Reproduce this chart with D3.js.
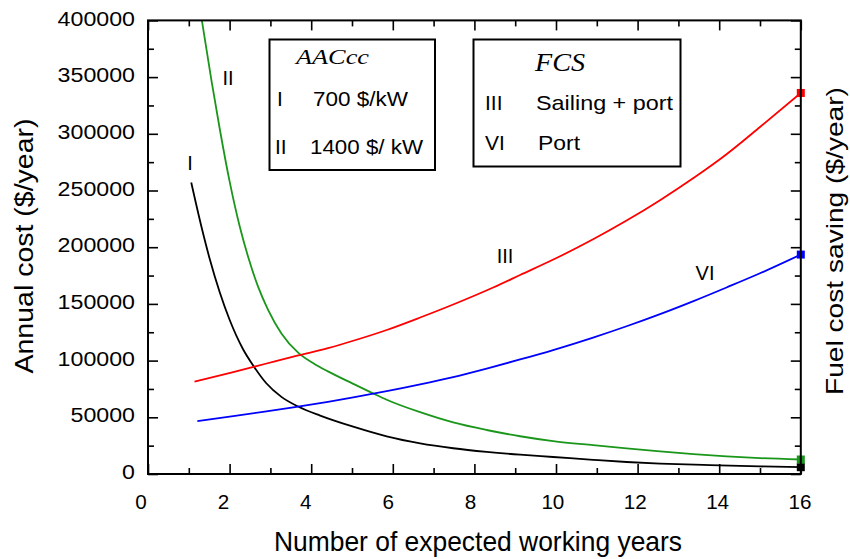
<!DOCTYPE html>
<html>
<head>
<meta charset="utf-8">
<script src="https://cdn.jsdelivr.net/npm/d3@7/dist/d3.min.js"></script>
<style>
  html, body { margin: 0; padding: 0; background: #fff; }
  svg { display: block; }
  text { font-family: "Liberation Sans", Arial, sans-serif; fill: #000; }
  .serif { font-family: "Liberation Serif", "Times New Roman", serif; font-style: italic; }
</style>
</head>
<body>
<svg id="chart" width="850" height="559"></svg>
<script>
// Annual capital cost (AACcc) and fuel cost saving (FCS) vs expected working years

// Curve I: AACcc at 700 $/kW
const yearsI = [1.06, 1.31, 1.51, 1.76, 2.0, 2.33, 2.61, 2.9, 3.27, 3.68, 4.22, 5.03, 5.85, 6.67, 7.48, 8.3, 9.12, 9.93, 10.91, 11.73, 12.55, 13.77, 15.0, 16];
const costI  = [257000, 218000, 190000, 160000, 136000, 110000, 94000, 80000, 68000, 59500, 51500, 41700, 33200, 27000, 22700, 19500, 17000, 15000, 12500, 10600, 9200, 7800, 6700, 6000];

// Curve II: AACcc at 1400 $/kW
const yearsII = [1.32, 1.56, 1.76, 2.0, 2.25, 2.45, 2.7, 2.94, 3.27, 3.68, 4.08, 4.41, 5.03, 5.52, 5.85, 6.67, 7.48, 8.3, 9.12, 9.93, 10.91, 11.73, 12.55, 13.37, 14.18, 15.0, 16];
const costII  = [400000, 346000, 304000, 258000, 218000, 192000, 165000, 145000, 124000, 107000, 97000, 90500, 79500, 71000, 65500, 54500, 45500, 38800, 33300, 29000, 25400, 22600, 20000, 17600, 15600, 14000, 12800];

// Curve III: FCS, sailing + port
const yearsIII = [1.14, 2.04, 2.86, 3.68, 4.41, 5.03, 5.85, 6.67, 7.48, 8.46, 9.12, 10.1, 10.91, 11.73, 12.55, 13.37, 14.18, 15.0, 16];
const savingIII = [81400, 89500, 97000, 104500, 111000, 117500, 127000, 138000, 149500, 164500, 175500, 192000, 207000, 223500, 241500, 261000, 282000, 306000, 336000];

// Curve VI: FCS, port only
const yearsVI = [1.21, 2.09, 2.86, 3.6, 4.41, 5.03, 5.85, 6.67, 7.48, 8.3, 9.12, 9.93, 10.91, 11.73, 12.55, 13.37, 14.18, 15.0, 16];
const savingVI = [46700, 51000, 55000, 59000, 63600, 67500, 73000, 79000, 85500, 93000, 101000, 109300, 120300, 130300, 141000, 152500, 164500, 177000, 193500];

const xTicks = [0, 2, 4, 6, 8, 10, 12, 14, 16];
const yTicks = [0, 50000, 100000, 150000, 200000, 250000, 300000, 350000, 400000];

const seriesList = [
  { name: "I",   xs: yearsI,   ys: costI,     color: "#000000" },
  { name: "II",  xs: yearsII,  ys: costII,    color: "#1a961a" },
  { name: "III", xs: yearsIII, ys: savingIII, color: "#ff0000" },
  { name: "VI",  xs: yearsVI,  ys: savingVI,  color: "#0000ff" }
];

const L = 148, R = 800.8, T = 20.4, B = 474;
const svg = d3.select("#chart");

const x = d3.scaleLinear().domain([0, 16]).range([L, R]);
const y = d3.scaleLinear().domain([0, 400000]).range([B, T]);
// tick labels sit on a slightly wider spacing than the ticks
const xLab = d3.scaleLinear().domain([0, 16]).range([141, 800]);

svg.append("defs").append("clipPath").attr("id", "plotClip")
  .append("rect").attr("x", L).attr("y", T).attr("width", R - L).attr("height", B - T);

// curves
const line = d3.line().x(d => x(d[0])).y(d => y(d[1])).curve(d3.curveMonotoneX);
const plot = svg.append("g").attr("clip-path", "url(#plotClip)");
seriesList.forEach(s => {
  const pts = s.xs.map((v, i) => [v, s.ys[i]]);
  plot.append("path").datum(pts)
    .attr("d", line)
    .attr("fill", "none")
    .attr("stroke", s.color)
    .attr("stroke-width", 1.8);
  const last = pts[pts.length - 1];
  svg.append("rect")
    .attr("x", x(last[0]) - 4).attr("y", y(last[1]) - 4)
    .attr("width", 8).attr("height", 8)
    .attr("fill", s.color);
});

// axes: major + minor ticks pointing inward on all four sides
const yMinor = d3.range(25000, 400000, 50000);
const xMinor = d3.range(1, 16, 2);
function style(g) {
  g.select(".domain").remove();
  g.selectAll(".tick line").attr("stroke", "#000").attr("stroke-width", 1.6);
}
svg.append("g").attr("transform", `translate(${L},0)`)
  .call(d3.axisLeft(y).tickValues(yMinor).tickSize(-6).tickFormat(""))
  .call(style);
const yAxis = svg.append("g").attr("transform", `translate(${L},0)`)
  .call(d3.axisLeft(y).tickValues(yTicks).tickSize(-10).tickSizeOuter(0).tickPadding(13).tickFormat(d3.format("d")))
  .call(style);
yAxis.selectAll("text")
  .attr("font-size", 19.5).attr("dy", "0.24em")
  .attr("font-family", "Liberation Sans, Arial, sans-serif")
  .attr("textLength", d => String(d).length * 12.9)
  .attr("lengthAdjust", "spacingAndGlyphs");

svg.append("g").attr("transform", `translate(${R},0)`)
  .call(d3.axisRight(y).tickValues(yMinor).tickSize(-6).tickFormat(""))
  .call(style);
svg.append("g").attr("transform", `translate(${R},0)`)
  .call(d3.axisRight(y).tickValues(yTicks).tickSize(-10).tickFormat(""))
  .call(style);

svg.append("g").attr("transform", `translate(0,${B})`)
  .call(d3.axisBottom(x).tickValues(xMinor).tickSize(-6).tickFormat(""))
  .call(style);
svg.append("g").attr("transform", `translate(0,${B})`)
  .call(d3.axisBottom(x).tickValues(xTicks).tickSize(-10).tickFormat(""))
  .call(style);
svg.append("g").attr("transform", `translate(0,${T})`)
  .call(d3.axisTop(x).tickValues(xMinor).tickSize(-6).tickFormat(""))
  .call(style);
svg.append("g").attr("transform", `translate(0,${T})`)
  .call(d3.axisTop(x).tickValues(xTicks).tickSize(-10).tickFormat(""))
  .call(style);

svg.append("g").selectAll("text").data(xTicks).join("text")
  .attr("x", d => xLab(d)).attr("y", 509)
  .attr("text-anchor", "middle").attr("font-size", 19.5)
  .attr("textLength", d => String(d).length * 11.5)
  .attr("lengthAdjust", "spacingAndGlyphs")
  .text(d => d);

// frame
svg.append("rect").attr("x", L).attr("y", T).attr("width", R - L).attr("height", B - T)
  .attr("fill", "none").attr("stroke", "#000").attr("stroke-width", 2);

// axis titles
svg.append("text").attr("x", 478).attr("y", 551).attr("text-anchor", "middle")
  .attr("font-size", 28).attr("textLength", 408).attr("lengthAdjust", "spacingAndGlyphs")
  .text("Number of expected working years");
svg.append("text").attr("transform", "translate(33,246) rotate(-90)").attr("text-anchor", "middle")
  .attr("font-size", 25).attr("textLength", 255).attr("lengthAdjust", "spacingAndGlyphs")
  .text("Annual cost ($/year)");
svg.append("text").attr("transform", "translate(843,241) rotate(-90)").attr("text-anchor", "middle")
  .attr("font-size", 24).attr("textLength", 308).attr("lengthAdjust", "spacingAndGlyphs")
  .text("Fuel cost saving ($/year)");

// curve labels
const curveLabels = [
  { t: "I",   x: 190, y: 170 },
  { t: "II",  x: 228, y: 85 },
  { t: "III", x: 505, y: 263 },
  { t: "VI",  x: 705, y: 280 }
];
svg.append("g").selectAll("text").data(curveLabels).join("text")
  .attr("x", d => d.x).attr("y", d => d.y).attr("text-anchor", "middle")
  .attr("font-size", 20)
  .text(d => d.t);

// legend boxes
const boxes = [
  { x0: 269.5, y0: 39.5, x1: 435, y1: 170 },
  { x0: 473.5, y0: 39.5, x1: 680.5, y1: 166.5 }
];
svg.append("g").selectAll("rect").data(boxes).join("rect")
  .attr("x", d => d.x0).attr("y", d => d.y0)
  .attr("width", d => d.x1 - d.x0).attr("height", d => d.y1 - d.y0)
  .attr("fill", "#fff").attr("stroke", "#000").attr("stroke-width", 2);

const legendTexts = [
  { t: "AACcc", x: 296, y: 64, w: 73, serif: true, size: 22 },
  { t: "I", x: 277, y: 106, size: 21 },
  { t: "700 $/kW", x: 313, y: 106, w: 95, size: 20 },
  { t: "II", x: 275, y: 154, size: 21 },
  { t: "1400 $/ kW", x: 310, y: 154, w: 113, size: 20 },
  { t: "FCS", x: 535, y: 71, w: 50, serif: true, size: 25 },
  { t: "III", x: 485, y: 110, size: 21 },
  { t: "Sailing + port", x: 536, y: 110, w: 137, size: 21 },
  { t: "VI", x: 485, y: 150, size: 21 },
  { t: "Port", x: 538, y: 150, w: 42, size: 21 }
];
const lt = svg.append("g").selectAll("text").data(legendTexts).join("text")
  .attr("class", d => d.serif ? "serif" : null)
  .attr("x", d => d.x).attr("y", d => d.y)
  .attr("font-size", d => d.size)
  .text(d => d.t);
lt.filter(d => d.w).attr("textLength", d => d.w).attr("lengthAdjust", "spacingAndGlyphs");
</script>
</body>
</html>
